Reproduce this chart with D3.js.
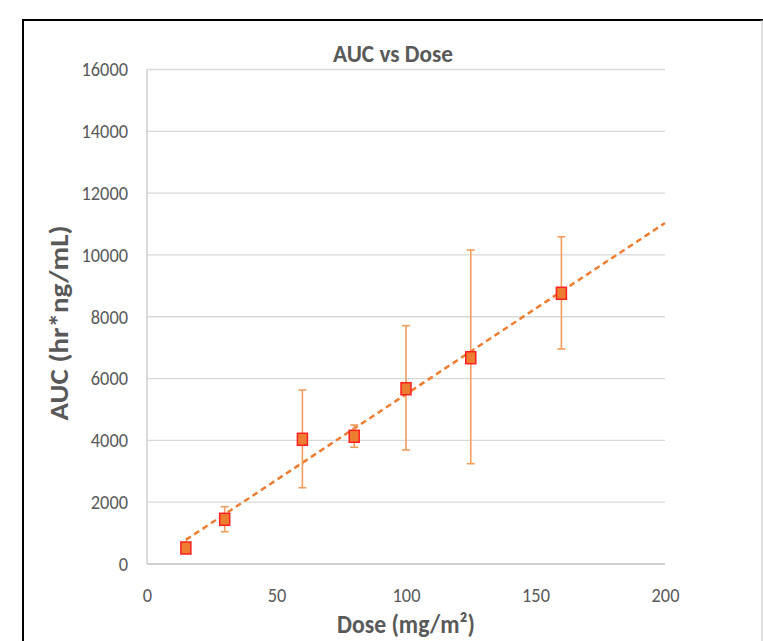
<!DOCTYPE html>
<html lang="en">
<head>
    <meta charset="utf-8">
    <title>auc_vs_dose</title>
    <script type="text/javascript" src="https://d3js.org/d3.v7.min.js"></script>
    <style type="text/css">
        body { margin: 0; background: #fff; }
        text { font-family: Carlito, "Liberation Sans Narrow", "Open Sans", sans-serif; fill: #595959; }
    </style>
</head>
<body>
<script type="text/javascript">

    // values
    var doses = [15, 30, 60, 80, 100, 125, 160];
    var auc_mean = [518, 1446, 4035, 4132, 5672, 6675, 8759];
    var auc_hi = [560, 1854, 5630, 4498, 7711, 10160, 10590];
    var auc_lo = [480, 1045, 2469, 3776, 3689, 3245, 6957];
    var x_ticks = [0, 50, 100, 150, 200];
    var y_ticks = [0, 2000, 4000, 6000, 8000, 10000, 12000, 14000, 16000];

    var width = 763, height = 641;
    var plot = {left: 147, right: 665, top: 69.5, bottom: 564};

    var svg = d3.select("body")
        .append("svg")
        .attr("width", width)
        .attr("height", height);

    var x = d3.scaleLinear().domain([0, 200]).range([plot.left, plot.right]);
    var y = d3.scaleLinear().domain([0, 16000]).range([plot.bottom, plot.top]);

    // frame around the chart
    svg.append("line").attr("x1", 23).attr("y1", 20).attr("x2", 23).attr("y2", height)
        .attr("stroke", "#000").attr("stroke-width", 2);
    svg.append("line").attr("x1", 22).attr("y1", 20).attr("x2", width).attr("y2", 20)
        .attr("stroke", "#000").attr("stroke-width", 2);
    svg.append("line").attr("x1", 762).attr("y1", 20).attr("x2", 762).attr("y2", height)
        .attr("stroke", "#bfbfbf").attr("stroke-width", 1);

    // gridlines
    svg.append("g")
        .selectAll("line")
        .data(y_ticks.filter(d => d > 0))
        .enter()
        .append("line")
        .attr("x1", plot.left)
        .attr("x2", plot.right)
        .attr("y1", d => y(d))
        .attr("y2", d => y(d))
        .attr("stroke", "#d9d9d9")
        .attr("stroke-width", 1.3);

    // axis lines (left + bottom)
    svg.append("line").attr("x1", plot.left).attr("x2", plot.left)
        .attr("y1", plot.top).attr("y2", plot.bottom)
        .attr("stroke", "#c8c8c8").attr("stroke-width", 1.3);
    svg.append("line").attr("x1", plot.left).attr("x2", plot.right)
        .attr("y1", plot.bottom).attr("y2", plot.bottom)
        .attr("stroke", "#c0c0c0").attr("stroke-width", 1.5);

    // tick labels - narrow look like the original, about 9.3px per digit
    var digit_w = 9.3;
    var yAxis = d3.axisLeft(y).tickValues(y_ticks).tickFormat(d3.format("d")).tickSize(0).tickPadding(19);
    var gy = svg.append("g").attr("transform", "translate(" + plot.left + ",0)").call(yAxis);
    gy.select(".domain").remove();
    gy.selectAll("text")
        .style("font-size", "19.5px")
        .attr("fill", "#595959")
        .attr("textLength", d => String(d).length * digit_w)
        .attr("lengthAdjust", "spacingAndGlyphs");

    var xAxis = d3.axisBottom(x).tickValues(x_ticks).tickFormat(d3.format("d")).tickSize(0).tickPadding(24);
    var gx = svg.append("g").attr("transform", "translate(0," + plot.bottom + ")").call(xAxis);
    gx.select(".domain").remove();
    gx.selectAll("text")
        .style("font-size", "19.5px")
        .attr("fill", "#595959")
        .attr("textLength", d => String(d).length * digit_w)
        .attr("lengthAdjust", "spacingAndGlyphs");

    // trendline (least squares through the means)
    var mx = d3.mean(doses), my = d3.mean(auc_mean);
    var sxy = d3.sum(doses, (d, i) => (d - mx) * (auc_mean[i] - my));
    var sxx = d3.sum(doses, d => (d - mx) * (d - mx));
    var slope = sxy / sxx, intercept = my - slope * mx;
    var trend = [15, 200].map(d => [d, intercept + slope * d]);

    svg.append("path")
        .datum(trend)
        .attr("d", d3.line().x(d => x(d[0])).y(d => y(d[1])))
        .attr("fill", "none")
        .attr("stroke", "#ed7d31")
        .attr("stroke-width", 2.5)
        .attr("stroke-dasharray", "6,4");

    var points = doses.map((d, i) => ({dose: d, mean: auc_mean[i], hi: auc_hi[i], lo: auc_lo[i]}));

    // error bars
    var eb = svg.append("g").attr("stroke", "#f29c5e").attr("stroke-width", 1.6);
    eb.selectAll("line.v")
        .data(points)
        .enter()
        .append("line")
        .attr("class", "v")
        .attr("x1", d => x(d.dose)).attr("x2", d => x(d.dose))
        .attr("y1", d => y(d.hi)).attr("y2", d => y(d.lo));
    eb.selectAll("line.top")
        .data(points)
        .enter()
        .append("line")
        .attr("class", "top")
        .attr("x1", d => x(d.dose) - 4).attr("x2", d => x(d.dose) + 4)
        .attr("y1", d => y(d.hi)).attr("y2", d => y(d.hi));
    eb.selectAll("line.bot")
        .data(points)
        .enter()
        .append("line")
        .attr("class", "bot")
        .attr("x1", d => x(d.dose) - 4).attr("x2", d => x(d.dose) + 4)
        .attr("y1", d => y(d.lo)).attr("y2", d => y(d.lo));

    // markers
    svg.selectAll("rect.pt")
        .data(points)
        .enter()
        .append("rect")
        .attr("class", "pt")
        .attr("x", d => x(d.dose) - 5)
        .attr("y", d => y(d.mean) - 6)
        .attr("width", 10)
        .attr("height", 12)
        .attr("fill", "#ed7d31")
        .attr("stroke", "#ff1f1f")
        .attr("stroke-width", 1.5);

    // titles
    svg.append("text")
        .attr("x", 393).attr("y", 62)
        .attr("text-anchor", "middle")
        .style("font-size", "25px")
        .style("font-weight", "bold")
        .attr("textLength", 120)
        .attr("lengthAdjust", "spacingAndGlyphs")
        .text("AUC vs Dose");

    svg.append("text")
        .attr("transform", "translate(68,323) rotate(-90)")
        .attr("text-anchor", "middle")
        .style("font-size", "26px")
        .style("font-weight", "bold")
        .attr("textLength", 195)
        .attr("lengthAdjust", "spacingAndGlyphs")
        .text("AUC (hr*ng/mL)");

    svg.append("text")
        .attr("x", 406).attr("y", 633)
        .attr("text-anchor", "middle")
        .style("font-size", "26px")
        .style("font-weight", "bold")
        .attr("textLength", 138)
        .attr("lengthAdjust", "spacingAndGlyphs")
        .text("Dose (mg/m\u00b2)");

</script>
</body>
</html>
